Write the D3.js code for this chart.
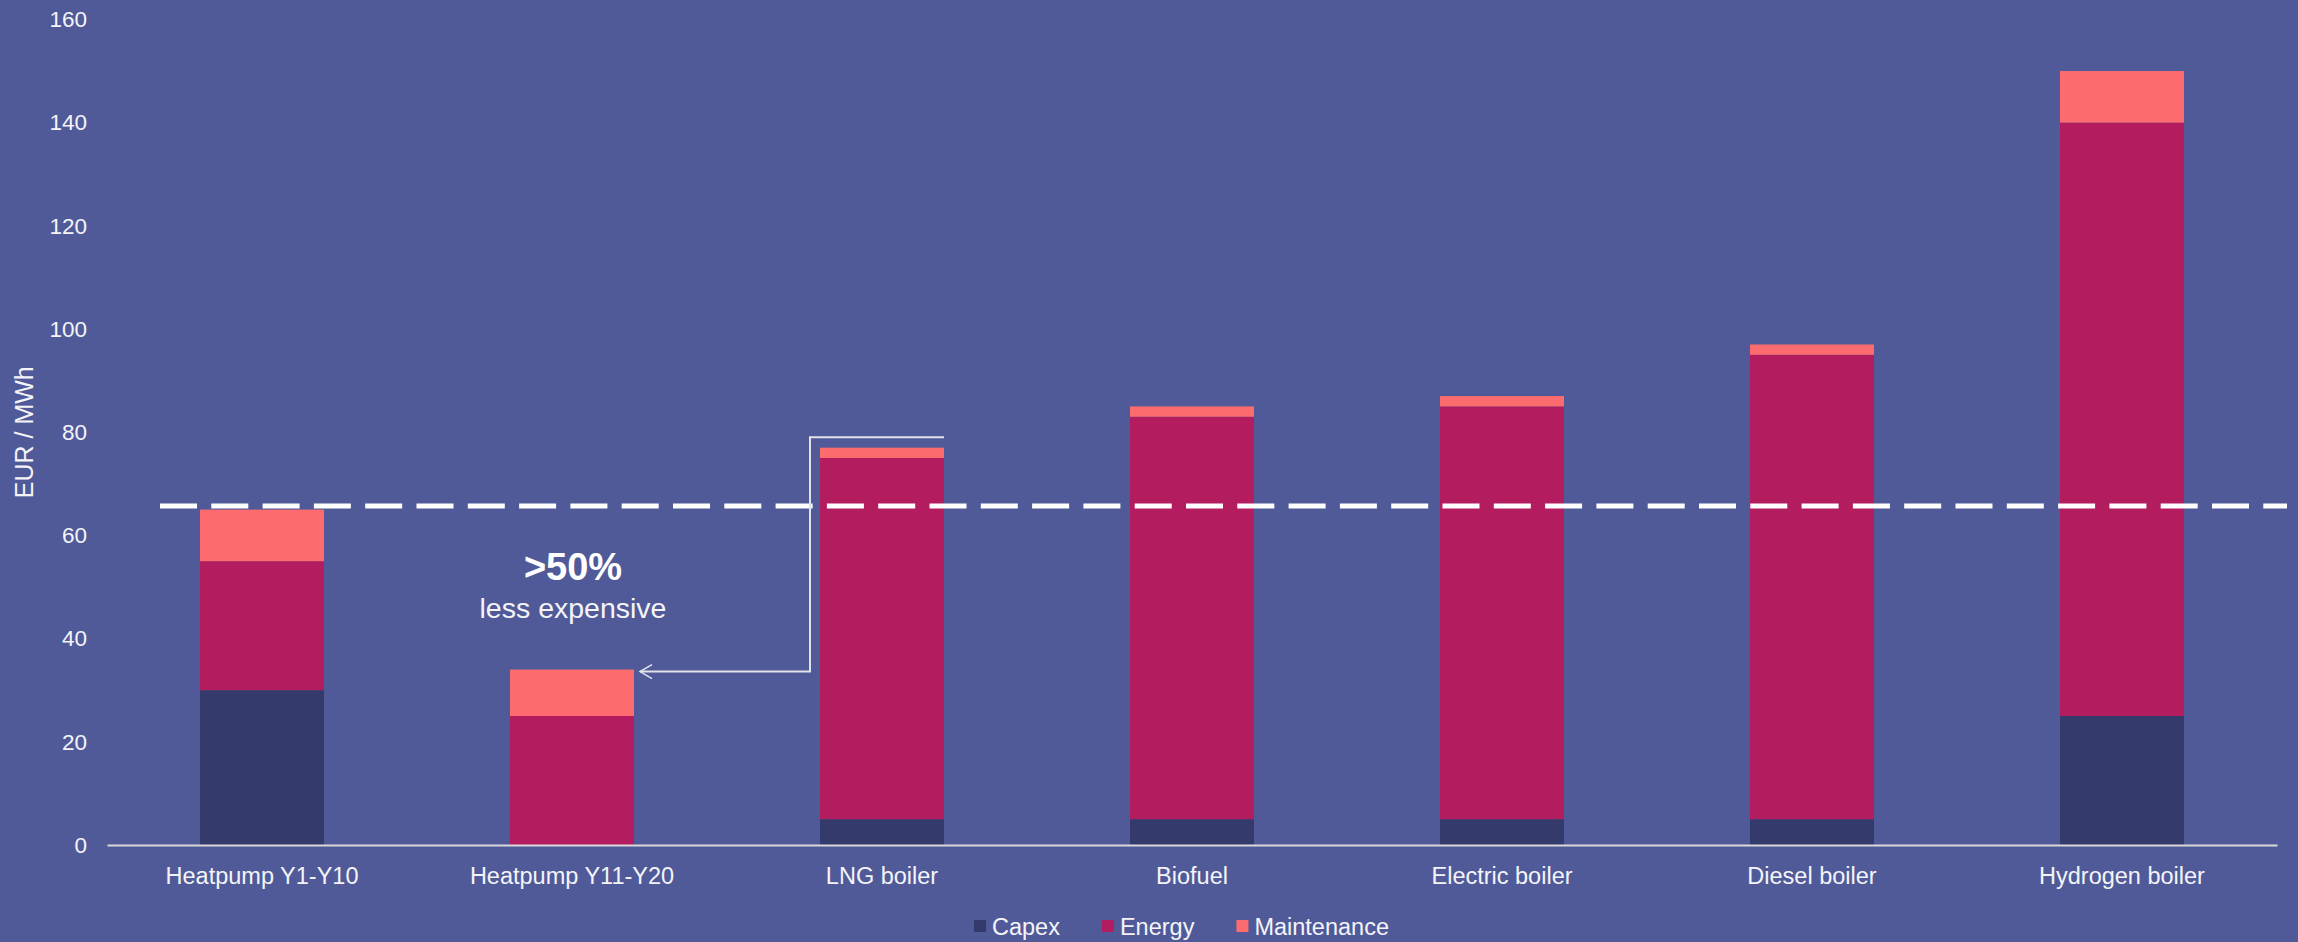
<!DOCTYPE html>
<html>
<head>
<meta charset="utf-8">
<script src="https://cdn.jsdelivr.net/npm/d3@7"></script>
<style>
  html, body { margin: 0; padding: 0; background: #505A99; }
  svg { display: block; font-family: "Liberation Sans", Arial, sans-serif; }
</style>
</head>
<body>
<div id="chart"></div>
<script>
// Data
const categories = ['Heatpump Y1-Y10', 'Heatpump Y11-Y20', 'LNG boiler', 'Biofuel', 'Electric boiler', 'Diesel boiler', 'Hydrogen boiler'];
const capex = [30, 0, 5, 5, 5, 5, 25];
const energy = [25, 25, 70, 78, 80, 90, 115];
const maintenance = [10, 9, 2, 2, 2, 2, 10];
const seriesNames = ['Capex', 'Energy', 'Maintenance'];
const yTicks = [0, 20, 40, 60, 80, 100, 120, 140, 160];
const referenceLevel = 65.7;
const annotationTitle = '>50%';
const annotationText = 'less expensive';

const COLORS = { Capex: '#343A6B', Energy: '#B31D5F', Maintenance: '#FC6B6E' };
const TEXT = '#F4F4F8';

const W = 2298, H = 942;
const plot = { left: 107, right: 2277, top: 19.4, bottom: 845 };

const svg = d3.select('#chart').append('svg').attr('width', W).attr('height', H);

const rows = categories.map((c, i) => ({ category: c, Capex: capex[i], Energy: energy[i], Maintenance: maintenance[i] }));
const stacked = d3.stack().keys(seriesNames)(rows);

const x = d3.scaleBand().domain(categories).range([plot.left, plot.right]).paddingInner(0.6).paddingOuter(0.3);
const y = d3.scaleLinear().domain([0, 160]).range([plot.bottom, plot.top]);

// Y axis (labels only)
svg.append('g').attr('transform', `translate(${plot.left},0)`)
  .call(d3.axisLeft(y).tickValues(yTicks).tickSize(0).tickPadding(20))
  .call(g => g.select('.domain').remove())
  .call(g => g.selectAll('.tick text').attr('fill', TEXT).attr('font-size', '22.5px')
    .attr('font-family', '"Liberation Sans", Arial, sans-serif'));

svg.append('text')
  .attr('transform', `translate(33,${(plot.top + plot.bottom) / 2}) rotate(-90)`)
  .attr('text-anchor', 'middle').attr('fill', TEXT).attr('font-size', '25px')
  .text('EUR / MWh');

// Bars
svg.append('g').selectAll('g').data(stacked).join('g')
  .attr('fill', d => COLORS[d.key])
  .selectAll('rect').data(d => d).join('rect')
  .attr('x', d => x(d.data.category))
  .attr('width', x.bandwidth())
  .attr('y', d => y(d[1]))
  .attr('height', d => y(d[0]) - y(d[1]));

// X axis
svg.append('g').attr('transform', `translate(0,${plot.bottom})`)
  .call(d3.axisBottom(x).tickSize(0).tickSizeOuter(0))
  .call(g => g.select('.domain').attr('stroke', '#D9D9D9').attr('stroke-width', 2))
  .call(g => g.selectAll('.tick text').attr('fill', TEXT).attr('font-size', '23.5px')
    .attr('font-family', '"Liberation Sans", Arial, sans-serif')
    .attr('y', 39).attr('dy', 0));

// Reference dashed line
svg.append('line')
  .attr('x1', plot.left + 53).attr('x2', plot.right + 10)
  .attr('y1', y(referenceLevel)).attr('y2', y(referenceLevel))
  .attr('stroke', '#FFFFFF').attr('stroke-width', 5)
  .attr('stroke-dasharray', '37 14.3');

// Connector from LNG boiler to Heatpump Y11-Y20
const lng = categories[2], hp2 = categories[1];
const hp2Total = capex[1] + energy[1] + maintenance[1];
const cx = x(lng) - 10;
const topY = y(79);
const arrowY = y(hp2Total) + 2;
const tipX = x(hp2) + x.bandwidth() + 6;
svg.append('path')
  .attr('d', `M${x(lng) + x.bandwidth()},${topY}H${cx}V${arrowY}H${tipX}`)
  .attr('fill', 'none').attr('stroke', '#E2E2EA').attr('stroke-width', 2);
svg.append('path')
  .attr('d', `M${tipX + 12},${arrowY - 7}L${tipX},${arrowY}L${tipX + 12},${arrowY + 7}`)
  .attr('fill', 'none').attr('stroke', '#E2E2EA').attr('stroke-width', 1.5);

// Annotation
const ax = x(hp2) + x.bandwidth() / 2 + 1;
svg.append('text').attr('x', ax).attr('y', 580)
  .attr('text-anchor', 'middle').attr('fill', '#FFFFFF')
  .attr('font-size', '38px').attr('font-weight', 'bold')
  .text(annotationTitle);
svg.append('text').attr('x', ax).attr('y', 618)
  .attr('text-anchor', 'middle').attr('fill', TEXT).attr('font-size', '28.5px')
  .text(annotationText);

// Legend
const legend = svg.append('g').attr('transform', 'translate(974,920)');
let lx = 0;
seriesNames.forEach(name => {
  const item = legend.append('g').attr('transform', `translate(${lx},0)`);
  item.append('rect').attr('width', 12).attr('height', 12).attr('fill', COLORS[name]);
  const t = item.append('text').attr('x', 18).attr('y', 15)
    .attr('fill', TEXT).attr('font-size', '23.5px').text(name);
  lx += 18 + t.node().getComputedTextLength() + 42;
});
</script>
</body>
</html>
